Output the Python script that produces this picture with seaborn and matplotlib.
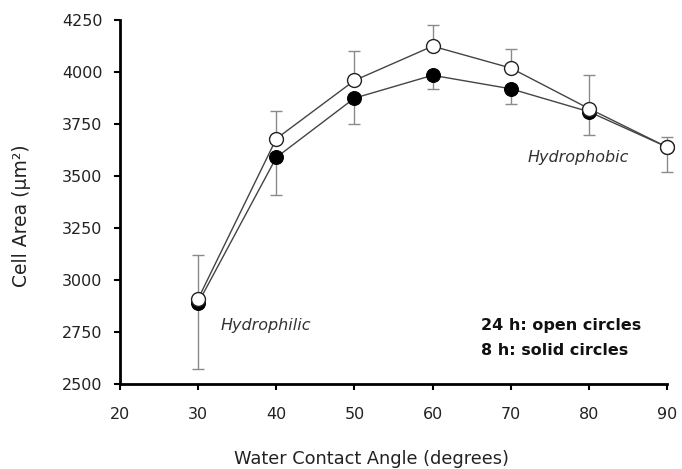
import matplotlib
matplotlib.use("Agg")
import matplotlib.pyplot as plt
import seaborn as sns
import pandas as pd

angles = [30, 40, 50, 60, 70, 80, 90]
area_24h = [2910, 3680, 3960, 4125, 4020, 3825, 3640]
err_24h_up = [210, 135, 140, 100, 90, 160, 50]
area_8h = [2890, 3590, 3875, 3985, 3920, 3810, 3640]
err_8h_down = [315, 180, 125, 65, 75, 110, 120]
yticks = [2500, 2750, 3000, 3250, 3500, 3750, 4000, 4250]
xticks = [20, 30, 40, 50, 60, 70, 80, 90]

sns.set_theme(style="white")
plt.rcParams['font.family'] = ['DejaVu Sans']

df = pd.DataFrame({
    "angle": angles * 2,
    "area": area_8h + area_24h,
    "series": ["8 h"] * len(angles) + ["24 h"] * len(angles),
})

fig = plt.figure(figsize=(6.82, 4.69), dpi=100)
ax = fig.add_axes([0.176, 0.181, 0.802, 0.776])

# error bars
eb1 = ax.errorbar(angles, area_8h, yerr=[err_8h_down, [0] * len(angles)], fmt="none",
                  ecolor="#8a8a8a", elinewidth=1.0, capsize=4, capthick=1.0, zorder=1)
eb2 = ax.errorbar(angles, area_24h, yerr=[[0] * len(angles), err_24h_up], fmt="none",
                  ecolor="#8a8a8a", elinewidth=1.0, capsize=4, capthick=1.0, zorder=1)
for eb in (eb1, eb2):
    for art in eb.lines[1]:
        art.set_clip_on(False)
    for art in eb.lines[2]:
        art.set_clip_on(False)

sns.lineplot(data=df[df.series == "8 h"], x="angle", y="area", ax=ax,
             color="#444444", linewidth=1.0, marker="o", markersize=10,
             markerfacecolor="black", markeredgecolor="black", zorder=2, clip_on=False)
sns.lineplot(data=df[df.series == "24 h"], x="angle", y="area", ax=ax,
             color="#444444", linewidth=1.0, marker="o", markersize=10,
             markerfacecolor="white", markeredgecolor="#222222", markeredgewidth=1.0,
             zorder=3, clip_on=False)

ax.set_xlim(20, 90)
ax.set_ylim(2500, 4250)
ax.set_xticks(xticks)
ax.set_yticks(yticks)
ax.tick_params(axis="both", direction="out", length=4.5, width=1.5, color="black",
               labelsize=11.5, labelcolor="#222222", bottom=True, left=True)
ax.tick_params(axis="x", pad=12)
ax.tick_params(axis="y", pad=8)
for s in ["top", "right"]:
    ax.spines[s].set_visible(False)
for s in ["left", "bottom"]:
    ax.spines[s].set_linewidth(2)
    ax.spines[s].set_color("black")

ax.set_xlabel("Water Contact Angle (degrees)", fontsize=12.8, color="#222222")
ax.set_ylabel("Cell Area (µm²)", fontsize=13.5, color="#222222")
ax.xaxis.set_label_coords(0.459, -0.181)
ax.yaxis.set_label_coords(-0.163, 0.464)

ax.text(78.6, 3590, "Hydrophobic", style="italic", fontsize=11.5, color="#333333",
        ha="center", va="center")
ax.text(38.6, 2784, "Hydrophilic", style="italic", fontsize=11.5, color="#333333",
        ha="center", va="center")
ax.text(66.2, 2784, "24 h: open circles", fontweight="bold", fontsize=11.5,
        color="#111111", ha="left", va="center")
ax.text(66.2, 2664, "8 h: solid circles", fontweight="bold", fontsize=11.5,
        color="#111111", ha="left", va="center")

fig.savefig("out.png", dpi=100)
